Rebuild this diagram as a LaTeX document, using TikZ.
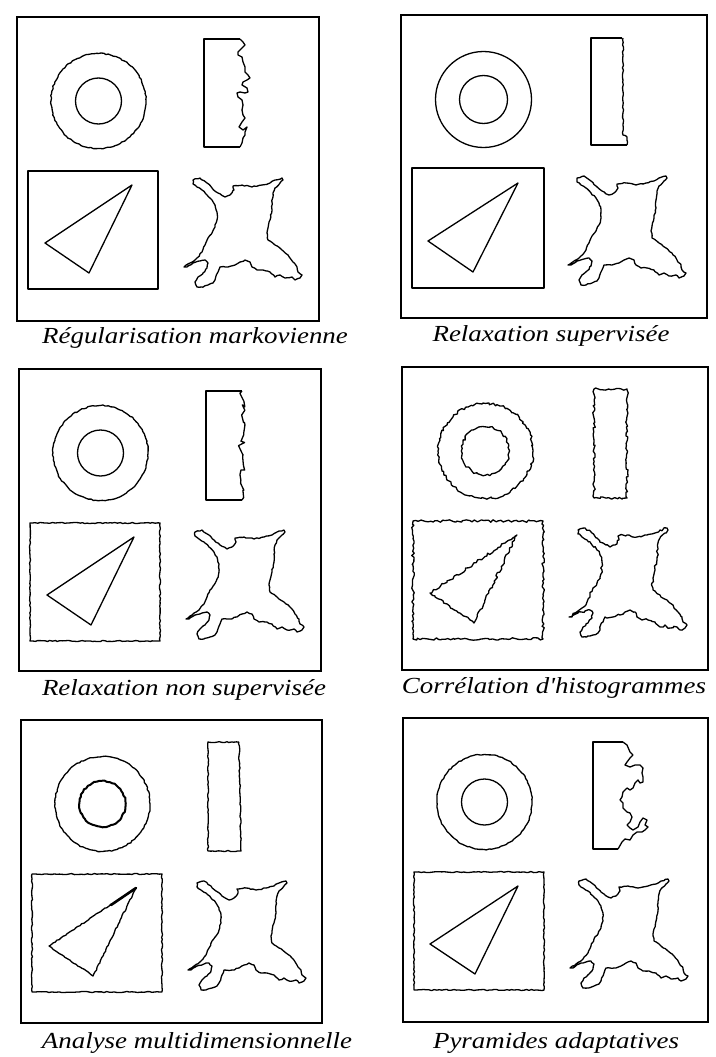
\documentclass[tikz,border=0pt]{standalone}
\usepackage{fontspec}
\setmainfont{Liberation Serif}
\usetikzlibrary{decorations.pathmorphing}

% outlines shared by the six panels, in pixels from the panel's top left corner
\newcommand{\blobpath}{(176,163) -- (183,161) -- (190,166) -- (195,171) -- (201,176) -- (208,180) -- (213,178) -- (217,173) -- (216,169) -- (225,168) -- (235,170) -- (245,168) -- (253,166) -- (258,163) -- (265,161) -- (266,163) -- (263,166) -- (258,171) -- (256,176) -- (255,185) -- (255,193) -- (253,203) -- (251,211) -- (250,216) -- (251,223) -- (258,228) -- (265,233) -- (271,238) -- (276,245) -- (280,250) -- (281,255) -- (285,258) -- (283,261) -- (278,263) -- (275,260) -- (268,261) -- (263,258) -- (258,260) -- (253,255) -- (246,253) -- (240,253) -- (235,250) -- (233,245) -- (228,243) -- (223,245) -- (218,248) -- (211,250) -- (203,250) -- (201,255) -- (198,263) -- (196,266) -- (191,268) -- (185,270) -- (180,270) -- (178,265) -- (181,260) -- (186,256) -- (190,251) -- (191,246) -- (188,243) -- (183,244) -- (176,246) -- (170,250) -- (167,250) -- (173,246) -- (180,241) -- (185,235) -- (188,228) -- (191,221) -- (195,216) -- (198,210) -- (200,203) -- (200,195) -- (198,188) -- (195,183) -- (190,178) -- (185,173) -- (180,170) -- (176,167) -- cycle}
\newcommand{\tripath}{(115,168) -- (28,226) -- (72,256) -- cycle}
\newcommand{\edgeone}{(223,22) -- (226,25) -- (228,28) -- (225,31) -- (221,35) -- (221,38) -- (225,40) -- (226,45) -- (228,50) -- (228,55) -- (231,58) -- (233,61) -- (230,63) -- (226,65) -- (225,68) -- (230,71) -- (231,75) -- (228,76) -- (223,75) -- (220,76) -- (221,80) -- (225,83) -- (226,88) -- (225,93) -- (226,98) -- (228,101) -- (225,105) -- (222,110) -- (226,113) -- (230,110) -- (228,115) -- (228,118) -- (226,121) -- (225,126) -- (223,130)}
\newcommand{\edgesix}{(220,24) -- (224,27) -- (227,34) -- (230,37) -- (227,40) -- (224,44) -- (222,47) -- (227,49) -- (232,47) -- (237,47) -- (240,50) -- (239,55) -- (240,59) -- (240,64) -- (237,65) -- (235,62) -- (232,65) -- (230,70) -- (227,72) -- (224,70) -- (220,74) -- (219,79) -- (217,82) -- (220,85) -- (220,90) -- (224,94) -- (227,95) -- (229,99) -- (227,104) -- (224,107) -- (227,110) -- (230,112) -- (235,109) -- (237,104) -- (240,100) -- (244,102) -- (242,107) -- (245,109) -- (242,112) -- (239,114) -- (234,114) -- (230,117) -- (227,122) -- (222,121) -- (219,124) -- (215,131)}

\begin{document}
\begin{tikzpicture}[x=1pt, y=-1pt]
\tikzstyle{frame}=[line width=2.2pt]
\tikzstyle{outline}=[line width=1.3pt, line join=round]
\tikzstyle{wiggly}=[outline, decorate, decoration={random steps, segment length=2.5pt, amplitude=0.6pt}]
\tikzstyle{rough}=[outline, decorate, decoration={random steps, segment length=2.5pt, amplitude=1.3pt}]
\tikzstyle{ragged}=[outline, decorate, decoration={random steps, segment length=4pt, amplitude=3.5pt}]
\tikzstyle{caption}=[inner sep=0pt, font=\fontsize{23}{27}\selectfont\itshape]
\pgfmathsetseed{11}

\useasboundingbox (0,0) rectangle (715,1057);

% Panel 1
\begin{scope}[shift={(17,17)}]
\draw[frame] (0,0) rectangle (302,304);
\draw[wiggly] (81.5,84) circle (47.5);
\draw[outline] (81.5,84) circle (23);
\draw[outline] (223,22) -- (187,22) -- (187,130) -- (223,130);
\draw[outline] \edgeone;
\draw[outline] (11,154) rectangle (141,272);
\draw[outline] \tripath;
\draw[wiggly] \blobpath;
\end{scope}

% Panel 2
\begin{scope}[shift={(401,15)}]
\draw[frame] (0,0) rectangle (306,303);
\draw[outline] (82.5,84.5) circle (48);
\draw[outline] (82.5,84.5) circle (24);
\draw[outline] (221,23) -- (190,23) -- (190,130) -- (226,130);
\draw[wiggly] (226,130) -- (226,122) -- (222,120) -- (222,23);
\draw[outline] (11,153) rectangle (143,273);
\draw[outline] (117,168) -- (27,226) -- (72,257) -- cycle;
\draw[wiggly] \blobpath;
\end{scope}

% Panel 3
\begin{scope}[shift={(19,369)}]
\draw[frame] (0,0) rectangle (302,302);
\draw[wiggly] (81.5,84) circle (47.5);
\draw[outline] (81.5,84) circle (23);
\draw[outline] (223,22) -- (187,22) -- (187,131) -- (223,131);
\draw[ragged] (223,131) -- (223,22);
\draw[wiggly] (11,154) rectangle (141,272);
\draw[outline] \tripath;
\draw[wiggly] \blobpath;
\end{scope}

% Panel 4
\begin{scope}[shift={(402,367)}]
\draw[frame] (0,0) rectangle (306,303);
\draw[rough] (83.5,84) circle (47.5);
\draw[rough] (83.5,84) circle (24);
\draw[rough] (192,22) rectangle (225,131);
\draw[rough] (11,154) rectangle (141,272);
\draw[rough] (115,168) -- (28,226) -- (72,256) -- cycle;
\draw[rough] \blobpath;
\end{scope}

% Panel 5
\begin{scope}[shift={(21,720)}]
\draw[frame] (0,0) rectangle (301,303);
\draw[wiggly] (81.5,84) circle (47.5);
\draw[wiggly, line width=2pt] (81.5,84) circle (23);
\draw[wiggly] (218,22) -- (187,22) -- (187,131) -- (220,131) -- (218,22);
\draw[wiggly] (11,154) rectangle (141,272);
\draw[wiggly] \tripath;
\draw[line width=2.6pt, line cap=round] (115,168) -- (90,185);
\draw[wiggly] \blobpath;
\end{scope}

% Panel 6
\begin{scope}[shift={(403,718)}]
\draw[frame] (0,0) rectangle (305,304);
\draw[wiggly] (81.5,84) circle (47.5);
\draw[outline] (81.5,84) circle (23);
\draw[outline] (220,24) -- (190,24) -- (190,131) -- (215,131);
\draw[outline] \edgesix;
\draw[wiggly] (11,154) rectangle (141,272);
\draw[outline] (115,168) -- (27,226) -- (72,256) -- cycle;
\draw[wiggly] \blobpath;
\end{scope}

% Captions
\node[caption] (cap-markov) at (195,338) {\scalebox{1.17}[1]{Régularisation markovienne}};
\node[caption] (cap-superv) at (551,336) {\scalebox{1.17}[1]{Relaxation supervisée}};
\node[caption] (cap-nonsup) at (184,690) {\scalebox{1.17}[1]{Relaxation non supervisée}};
\node[caption] (cap-histo) at (554,688) {\scalebox{1.17}[1]{Corrélation d\textquotesingle histogrammes}};
\node[caption] (cap-multi) at (197,1043) {\scalebox{1.17}[1]{Analyse multidimensionnelle}};
\node[caption] (cap-pyram) at (556,1043) {\scalebox{1.17}[1]{Pyramides adaptatives}};
\end{tikzpicture}
\end{document}
